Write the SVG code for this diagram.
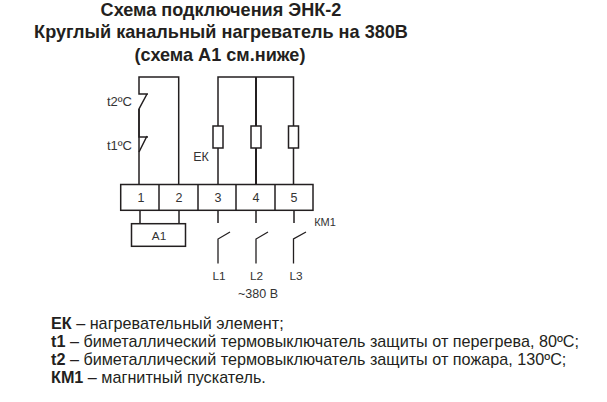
<svg xmlns="http://www.w3.org/2000/svg" width="607" height="402" viewBox="0 0 607 402">
<style>
text{font-family:"Liberation Sans",Arial,sans-serif;fill:#231f20}
.t{font-size:18.100px;font-weight:bold;text-anchor:middle}
.l{font-size:12.500px;text-anchor:middle;fill:#333}
.s{font-size:11.800px}
.b{font-size:16.200px}
.w{fill:none;stroke:#231f20;stroke-width:1.500}
.k{fill:none;stroke:#231f20;stroke-width:1.300}
.h{fill:#fff;stroke:#231f20;stroke-width:1.500}
</style>
<rect width="607" height="402" fill="#fff"/>
<g id="title">
<text class="t" x="221" y="15.500">Схема подключения ЭНК-2</text>
<text class="t" x="221" y="38">Круглый канальный нагреватель на 380В</text>
<text class="t" x="220" y="61">(схема А1 см.ниже)</text>
</g>
<g id="connectors">
<path class="w" d="M139 184V109L147 94M148 94H139V77H178.700V184"/>
<path class="w" d="M139 109V137H148M147 136L139 152"/>
<path class="w" d="M218 184V77H293.500V184"/>
<path class="w" d="M256 77V184" style="stroke-width:2"/>
<path class="w" d="M140 210V224M179 210V224"/>
<path class="w" d="M218 210V223M256 210V223M294 210V223"/>
<path class="k" d="M218 263.500V239L230 232M256 263.500V239L268 232M293.500 263.500V239L306 232"/>
</g>
<g id="ek1"><rect class="h" x="213" y="126" width="10" height="22"/></g>
<g id="ek2"><rect class="h" x="251" y="126" width="10" height="22"/></g>
<g id="ek3"><rect class="h" x="288.500" y="126" width="10" height="22"/></g>
<g id="terminals">
<rect class="h" x="120.700" y="184.500" width="192.300" height="25.800"/>
<path class="w" d="M159 184.500V210.300M198 184.500V210.300M236 184.500V210.300M275 184.500V210.300"/>
<text class="l" x="141" y="202">1</text>
<text class="l" x="179" y="202">2</text>
<text class="l" x="218" y="202">3</text>
<text class="l" x="256" y="202">4</text>
<text class="l" x="294" y="202">5</text>
</g>
<g id="a1"><rect class="h" x="131.500" y="223.700" width="54" height="22.600"/><text class="l s" x="159" y="239.500">А1</text></g>
<g id="labels">
<text class="l" x="119.500" y="105.500" style="font-size:13px">t2ºC</text>
<text class="l" x="119.500" y="149.500" style="font-size:13px">t1ºC</text>
<text class="l" x="201" y="160.500">ЕК</text>
<text class="l" x="325" y="225.500" style="font-size:11px">КМ1</text>
<text class="l s" x="219" y="280">L1</text>
<text class="l s" x="256.500" y="280">L2</text>
<text class="l s" x="296" y="280">L3</text>
<text class="l" x="258" y="298">~380 В</text>
</g>
<g id="legend">
<text class="b" x="51" y="328.500"><tspan font-weight="bold">ЕК</tspan> – нагревательный элемент;</text>
<text class="b" x="51" y="347"><tspan font-weight="bold">t1</tspan> – биметаллический термовыключатель защиты от перегрева, 80ºС;</text>
<text class="b" x="51" y="365"><tspan font-weight="bold">t2</tspan> – биметаллический термовыключатель защиты от пожара, 130ºС;</text>
<text class="b" x="51" y="383"><tspan font-weight="bold">КМ1</tspan> – магнитный пускатель.</text>
</g>
</svg>
